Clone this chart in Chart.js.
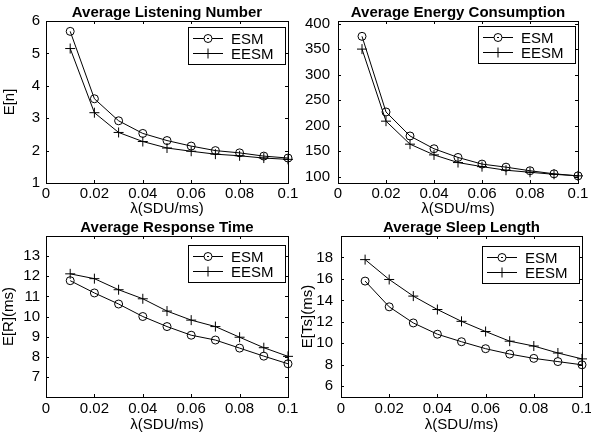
<!DOCTYPE html>
<html>
<head>
<meta charset="utf-8">
<script src="https://cdn.jsdelivr.net/npm/chart.js@4.4.0/dist/chart.umd.min.js"></script>
<style>
body { margin: 0; background: #fff; }
#wrap { position: relative; width: 591px; height: 437px; }
#wrap canvas { position: absolute; left: 0; top: 0; }
</style>
</head>
<body>
<div id="wrap">
  <canvas id="c1" width="591" height="437"></canvas>
  <canvas id="c2" width="591" height="437"></canvas>
  <canvas id="c3" width="591" height="437"></canvas>
  <canvas id="c4" width="591" height="437"></canvas>
</div>
<script>
// data
var lambda = [0.01, 0.02, 0.03, 0.04, 0.05, 0.06, 0.07, 0.08, 0.09, 0.1];
var xTicks = [0, 0.02, 0.04, 0.06, 0.08, 0.1];
var seriesNames = ['ESM', 'EESM'];

var listenEsm  = [5.68, 3.6, 2.92, 2.53, 2.31, 2.14, 2.0, 1.93, 1.83, 1.77];
var listenEesm = [5.15, 3.17, 2.56, 2.28, 2.08, 1.98, 1.89, 1.84, 1.77, 1.73];
var listenTicks = [1, 2, 3, 4, 5, 6];

var energyEsm  = [375, 227, 180, 155, 138, 125, 119, 112, 106, 102];
var energyEesm = [350, 209, 164, 143, 128, 120, 113, 109, 105, 102];
var energyTicks = [100, 150, 200, 250, 300, 350, 400];

var responseEsm  = [11.78, 11.17, 10.62, 10.0, 9.5, 9.07, 8.83, 8.43, 8.03, 7.65];
var responseEesm = [12.12, 11.88, 11.33, 10.88, 10.27, 9.82, 9.5, 8.97, 8.45, 8.02];
var responseTicks = [7, 8, 9, 10, 11, 12, 13];

var sleepEsm  = [15.8, 13.4, 11.9, 10.85, 10.15, 9.5, 9.0, 8.6, 8.3, 8.0];
var sleepEesm = [17.8, 15.95, 14.4, 13.15, 12.05, 11.1, 10.2, 9.75, 9.1, 8.55];
var sleepTicks = [6, 8, 10, 12, 14, 16, 18];

var FONT = '"Liberation Sans", Arial, sans-serif';

// box, inward ticks, title and legend like the matlab figure
var matlabBox = {
  id: 'matlabBox',
  afterDraw: function(chart) {
    var o = chart.options.plugins.matlabBox;
    var ctx = chart.ctx, a = chart.chartArea;
    var xs = chart.scales.x, ys = chart.scales.y;
    ctx.save();
    ctx.strokeStyle = '#000';
    ctx.lineWidth = 1;
    ctx.strokeRect(a.left + 0.5, a.top + 0.5, a.right - a.left, a.bottom - a.top);
    ctx.beginPath();
    xs.ticks.forEach(function(t) {
      var px = Math.round(xs.getPixelForValue(t.value)) + 0.5;
      ctx.moveTo(px, a.bottom); ctx.lineTo(px, a.bottom - 3);
      ctx.moveTo(px, a.top); ctx.lineTo(px, a.top + 3);
    });
    ys.ticks.forEach(function(t) {
      var py = Math.round(ys.getPixelForValue(t.value)) + 0.5;
      ctx.moveTo(a.left, py); ctx.lineTo(a.left + 3, py);
      ctx.moveTo(a.right, py); ctx.lineTo(a.right - 3, py);
    });
    ctx.stroke();

    // title
    ctx.fillStyle = '#000';
    ctx.font = 'bold 15px ' + FONT;
    ctx.textAlign = 'center';
    ctx.textBaseline = 'alphabetic';
    ctx.fillText(o.title, (a.left + a.right) / 2, a.top - 4);

    // legend
    var bx = a.right - 100, by = a.top + o.legendTop, bw = 97, bh = 37;
    ctx.fillStyle = '#fff';
    ctx.fillRect(bx, by, bw, bh);
    ctx.strokeRect(bx + 0.5, by + 0.5, bw, bh);
    ctx.font = '15px ' + FONT;
    ctx.textAlign = 'left';
    ctx.textBaseline = 'middle';
    chart.data.datasets.forEach(function(ds, i) {
      var ly = Math.round(by + 11 + i * 15) + 0.5;
      var mx = bx + 20;
      ctx.beginPath();
      ctx.moveTo(bx + 5, ly); ctx.lineTo(bx + 35, ly);
      ctx.stroke();
      ctx.beginPath();
      if (ds.pointStyle === 'circle') {
        ctx.fillStyle = '#fff';
        ctx.arc(mx, ly, 4, 0, Math.PI * 2);
        ctx.fill();
        ctx.stroke();
        ctx.beginPath();
        ctx.moveTo(mx - 1, ly); ctx.lineTo(mx + 1, ly);
        ctx.stroke();
      } else {
        ctx.moveTo(mx - 5, ly); ctx.lineTo(mx + 5, ly);
        ctx.moveTo(mx, ly - 5); ctx.lineTo(mx, ly + 5);
        ctx.stroke();
      }
      ctx.fillStyle = '#000';
      ctx.fillText(ds.label, bx + 43, ly + 1);
    });
    ctx.restore();
  }
};

function makePlot(id, cfg) {
  var ctx = document.getElementById(id).getContext('2d');
  return new Chart(ctx, {
    type: 'line',
    data: {
      datasets: [{
        label: seriesNames[0],
        data: lambda.map(function(x, i) { return {x: x, y: cfg.esm[i]}; }),
        borderColor: '#000',
        borderWidth: 1,
        backgroundColor: 'rgba(0,0,0,0)',
        pointStyle: 'circle',
        pointRadius: 4,
        pointBorderWidth: 1,
        fill: false,
        tension: 0,
        clip: false
      }, {
        label: seriesNames[1],
        data: lambda.map(function(x, i) { return {x: x, y: cfg.eesm[i]}; }),
        borderColor: '#000',
        borderWidth: 1,
        backgroundColor: 'rgba(0,0,0,0)',
        pointStyle: 'cross',
        pointRadius: 5,
        pointBorderWidth: 1,
        fill: false,
        tension: 0,
        clip: false
      }]
    },
    options: {
      responsive: false,
      animation: false,
      events: [],
      layout: { padding: cfg.pad },
      scales: {
        x: {
          type: 'linear',
          min: 0,
          max: 0.1,
          grid: { display: false, drawTicks: false },
          border: { display: false },
          afterBuildTicks: function(s) { s.ticks = xTicks.map(function(v) { return {value: v}; }); },
          afterFit: function(s) { s.height = 40; s.paddingLeft = 0; s.paddingRight = 0; },
          ticks: {
            color: '#000', padding: cfg.xTickPad, autoSkip: false, maxRotation: 0,
            font: { family: FONT, size: 15 },
            callback: function(v) { return String(v); }
          },
          title: {
            display: true, text: 'λ(SDU/ms)', color: '#000',
            font: { family: FONT, size: 15 },
            padding: { top: 0, bottom: cfg.xTitlePad }
          }
        },
        y: {
          min: cfg.yMin,
          max: cfg.yMax,
          grid: { display: false, drawTicks: false },
          border: { display: false },
          afterBuildTicks: function(s) { s.ticks = cfg.yTicks.map(function(v) { return {value: v}; }); },
          afterFit: function(s) { s.width = 46; s.paddingTop = 0; s.paddingBottom = 0; },
          ticks: {
            color: '#000', padding: cfg.yTickPad, autoSkip: false,
            font: { family: FONT, size: 15 },
            callback: function(v) { return String(v); }
          },
          title: {
            display: !!cfg.yTitle, text: cfg.yTitle || '', color: '#000',
            font: { family: FONT, size: 15 },
            padding: { top: cfg.yTitlePad, bottom: 0 }
          }
        }
      },
      plugins: {
        legend: { display: false },
        tooltip: { enabled: false },
        matlabBox: { title: cfg.title, legendTop: cfg.legendTop }
      }
    },
    plugins: [matlabBox]
  });
}

makePlot('c1', {
  title: 'Average Listening Number', yTitle: 'E[n]',
  esm: listenEsm, eesm: listenEesm, yTicks: listenTicks, yMin: 1, yMax: 6,
  pad: { left: 0, top: 21, right: 303, bottom: 214 },
  xTickPad: 2, xTitlePad: 5, yTickPad: 6, yTitlePad: 1, legendTop: 6
});

makePlot('c2', {
  title: 'Average Energy Consumption', yTitle: '',
  esm: energyEsm, eesm: energyEesm, yTicks: energyTicks, yMin: 88, yMax: 405,
  pad: { left: 292, top: 21, right: 13, bottom: 214 },
  xTickPad: 2, xTitlePad: 5, yTickPad: 8, yTitlePad: 0, legendTop: 5
});

makePlot('c3', {
  title: 'Average Response Time', yTitle: 'E[R](ms)',
  esm: responseEsm, eesm: responseEesm, yTicks: responseTicks, yMin: 6, yMax: 14,
  pad: { left: 0, top: 236, right: 303, bottom: 0 },
  xTickPad: 3, xTitlePad: 3, yTickPad: 6, yTitlePad: 0, legendTop: 9
});

makePlot('c4', {
  title: 'Average Sleep Length', yTitle: 'E[Ts](ms)',
  esm: sleepEsm, eesm: sleepEesm, yTicks: sleepTicks, yMin: 5, yMax: 20,
  pad: { left: 295, top: 236, right: 9, bottom: 0 },
  xTickPad: 3, xTitlePad: 3, yTickPad: 8, yTitlePad: 4, legendTop: 10
});
</script>
</body>
</html>
